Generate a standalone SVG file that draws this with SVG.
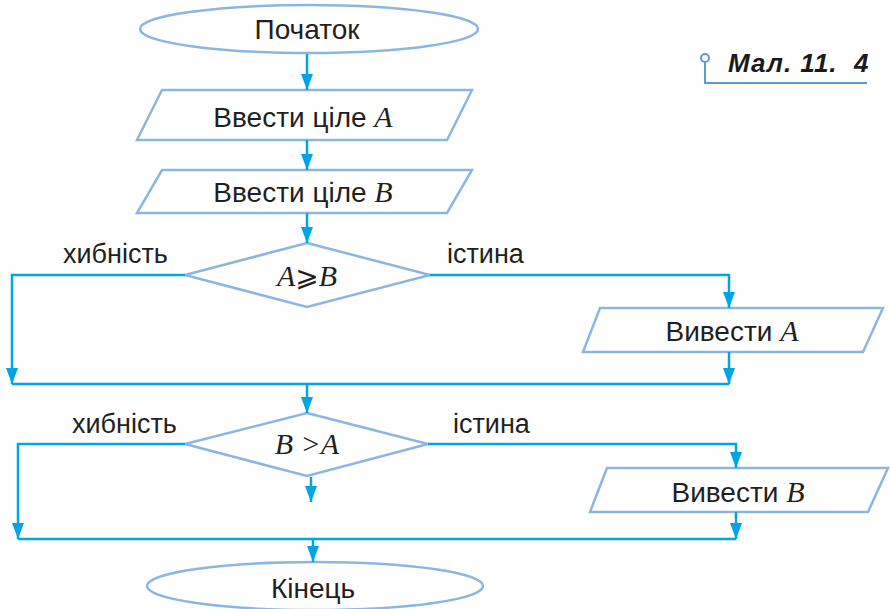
<svg xmlns="http://www.w3.org/2000/svg" width="890" height="609" viewBox="0 0 890 609">
<defs>
<style>
.shape{fill:#fff;stroke:#8cb6e2;stroke-width:2.5}
.conn{fill:none;stroke:#00a5e6;stroke-width:2.5}
.t{font-family:"Liberation Sans",Arial,sans-serif;font-size:28px;fill:#231f20;text-anchor:middle}
.lbl{font-family:"Liberation Sans",Arial,sans-serif;font-size:27px;fill:#231f20}
.m{font-family:"Liberation Serif","Times New Roman",serif;font-style:italic;font-size:30px}
.sym{font-family:"DejaVu Serif","DejaVu Sans",serif;font-style:normal;font-size:28px}
</style>
<marker id="ah" viewBox="0 0 16 12" refX="16" refY="6" markerWidth="16" markerHeight="12" markerUnits="userSpaceOnUse" orient="auto">
<path d="M0,0 L16,6 L0,12 Z" fill="#00a5e6"/>
</marker>
</defs>
<g id="start"><ellipse class="shape" cx="309" cy="29" rx="169" ry="24"/><text class="t" x="307" y="39">Початок</text></g>
<g id="inputA"><polygon class="shape" points="162,90 472,90 447,140 137,140"/><text class="t" x="303" y="127">Ввести ціле <tspan class="m">A</tspan></text></g>
<g id="inputB"><polygon class="shape" points="162,170 472,170 447,213 137,213"/><text class="t" x="303" y="202">Ввести ціле <tspan class="m">B</tspan></text></g>
<g id="cond1"><polygon class="shape" points="307,243 430,275 307,307 185,275"/><text class="t" x="307" y="286"><tspan class="m">A</tspan><tspan class="sym">⩾</tspan><tspan class="m">B</tspan></text></g>
<g id="outA"><polygon class="shape" points="600,308 883,308 863,352 583,352"/><text class="t" x="732" y="341">Вивести <tspan class="m">A</tspan></text></g>
<g id="cond2"><polygon class="shape" points="307,413 428,444 307,476 185,444"/><text class="t" x="307" y="454"><tspan class="m">B &gt;A</tspan></text></g>
<g id="outB"><polygon class="shape" points="607,468 888,468 868,512 590,512"/><text class="t" x="738" y="502">Вивести <tspan class="m">B</tspan></text></g>
<g id="end"><ellipse class="shape" cx="315" cy="586" rx="168" ry="24"/><text class="t" x="313" y="598">Кінець</text></g>
<g id="connectors">
<g class="conn" marker-end="url(#ah)">
<path d="M307,54 V90"/>
<path d="M307,140 V170"/>
<path d="M307,213 V243"/>
<path d="M185,275 H12 V384"/>
<path d="M430,275 H729 V308"/>
<path d="M729,352 V384"/>
<path d="M307,384 V413"/>
<path d="M311,477 V502"/>
<path d="M185,444 H18 V539"/>
<path d="M428,444 H736 V468"/>
<path d="M736,512 V539"/>
<path d="M313,539 V562"/>
</g>
<path class="conn" d="M12,384 H729"/>
<path class="conn" d="M18,539 H736"/>
</g>
<g id="labels">
<text class="lbl" x="63" y="263">хибність</text>
<text class="lbl" x="447" y="263">істина</text>
<text class="lbl" x="72" y="433">хибність</text>
<text class="lbl" x="453" y="433">істина</text>
</g>
<g id="caption">
<circle cx="705" cy="58" r="4" fill="#fff" stroke="#5b9bd5" stroke-width="2"/>
<path d="M705,62 V83 H867" fill="none" stroke="#5b9bd5" stroke-width="2"/>
<text x="728" y="72" font-family="Liberation Sans,Arial,sans-serif" font-size="26" font-weight="bold" font-style="italic" letter-spacing="1" fill="#1a1a1a" xml:space="preserve">Мал. 11.  4</text>
</g>
</svg>
